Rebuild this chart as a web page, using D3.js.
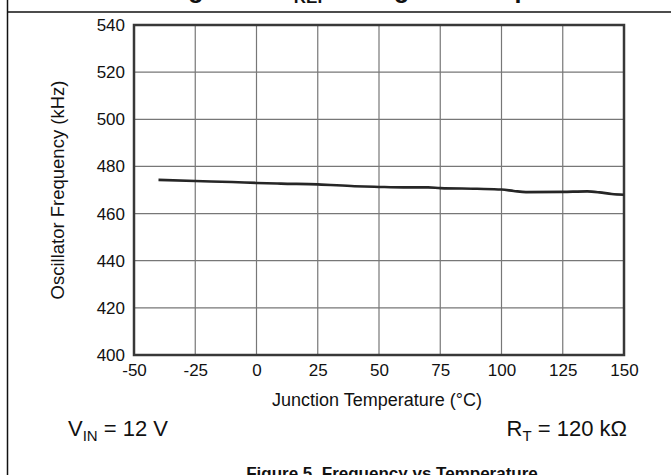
<!DOCTYPE html>
<html><head><meta charset="utf-8">
<script src="https://cdn.jsdelivr.net/npm/d3@7"></script>
<style>
html,body{margin:0;padding:0;background:#fff;}
text{font-family:"Liberation Sans",Arial,sans-serif;fill:#111;}
</style></head>
<body><svg id="c" width="671" height="475"></svg>
<script>
const temps = [-40, -25, -10, 0, 10, 25, 40, 50, 60, 70, 75, 90, 100, 105, 110, 125, 135, 140, 145, 150];
const freqs = [474.3, 473.8, 473.4, 473.0, 472.7, 472.4, 471.6, 471.3, 471.1, 471.1, 470.8, 470.5, 470.2, 469.6, 469.1, 469.2, 469.4, 469.0, 468.3, 468.0];
const xTicks = [-50, -25, 0, 25, 50, 75, 100, 125, 150];
const yTicks = [400, 420, 440, 460, 480, 500, 520, 540];

const svg = d3.select("#c");
const L = 134, R = 624, T = 25, B = 355;
const x = d3.scaleLinear().domain([-50, 150]).range([L, R]);
const y = d3.scaleLinear().domain([400, 540]).range([B, T]);

// page frame
svg.append("line").attr("x1", 7.5).attr("x2", 7.5).attr("y1", 0).attr("y2", 475).attr("stroke", "#111").attr("stroke-width", 1.5);
svg.append("line").attr("x1", 7).attr("x2", 671).attr("y1", 12).attr("y2", 12).attr("stroke", "#111").attr("stroke-width", 1.5);

// previous caption (clipped at the top edge)
const cap = svg.append("text").attr("x", 166).attr("y", -2).style("font-weight", "bold").style("font-size", "25px");
cap.append("tspan").text("Figure 4. V");
cap.append("tspan").attr("dy", 5).style("font-size", "17px").text("REF");
cap.append("tspan").attr("dy", -5).text(" Voltage vs Temperature");

// grid
svg.append("g").selectAll("line").data(xTicks).join("line")
  .attr("x1", d => x(d)).attr("x2", d => x(d)).attr("y1", T).attr("y2", B)
  .attr("stroke", "#777").attr("stroke-width", 1.2);
svg.append("g").selectAll("line").data(yTicks).join("line")
  .attr("x1", L).attr("x2", R).attr("y1", d => y(d)).attr("y2", d => y(d))
  .attr("stroke", "#777").attr("stroke-width", 1.2);

// axes (labels only)
const xa = svg.append("g").attr("transform", `translate(0,${B})`)
  .call(d3.axisBottom(x).tickValues(xTicks).tickFormat(d => String(d)).tickSize(0).tickPadding(9));
const ya = svg.append("g").attr("transform", `translate(${L},0)`)
  .call(d3.axisLeft(y).tickValues(yTicks).tickFormat(d => String(d)).tickSize(0).tickPadding(9));
[xa, ya].forEach(g => {
  g.select(".domain").remove();
  g.selectAll("text").style("font-size", "17px").style("font-family", '"Liberation Sans",Arial,sans-serif').attr("fill", "#111");
});

// frame
svg.append("rect").attr("x", L).attr("y", T).attr("width", R - L).attr("height", B - T)
  .attr("fill", "none").attr("stroke", "#383838").attr("stroke-width", 2.5);

// curve
const line = d3.line().x((d, i) => x(temps[i])).y(d => y(d)).curve(d3.curveMonotoneX);
svg.append("path").datum(freqs).attr("d", line).attr("fill", "none")
  .attr("stroke", "#262626").attr("stroke-width", 2.6);

// axis titles
svg.append("text").attr("x", 377).attr("y", 406).attr("text-anchor", "middle")
  .style("font-size", "18px").text("Junction Temperature (°C)");
svg.append("text").attr("transform", `translate(64,${(T + B) / 2}) rotate(-90)`).attr("text-anchor", "middle")
  .style("font-size", "18.5px").text("Oscillator Frequency (kHz)");

// conditions
const v = svg.append("text").attr("x", 68).attr("y", 436).style("font-size", "22px");
v.append("tspan").text("V");
v.append("tspan").attr("dy", 5).style("font-size", "15px").text("IN");
v.append("tspan").attr("dy", -5).text(" = 12 V");
const r = svg.append("text").attr("x", 627).attr("y", 436).attr("text-anchor", "end").style("font-size", "22px");
r.append("tspan").text("R");
r.append("tspan").attr("dy", 5).style("font-size", "15px").text("T");
r.append("tspan").attr("dy", -5).text(" = 120 kΩ");

// caption
svg.append("text").attr("x", 392).attr("y", 479).attr("text-anchor", "middle")
  .style("font-size", "17px").style("font-weight", "bold").text("Figure 5. Frequency vs Temperature");
</script></body></html>
